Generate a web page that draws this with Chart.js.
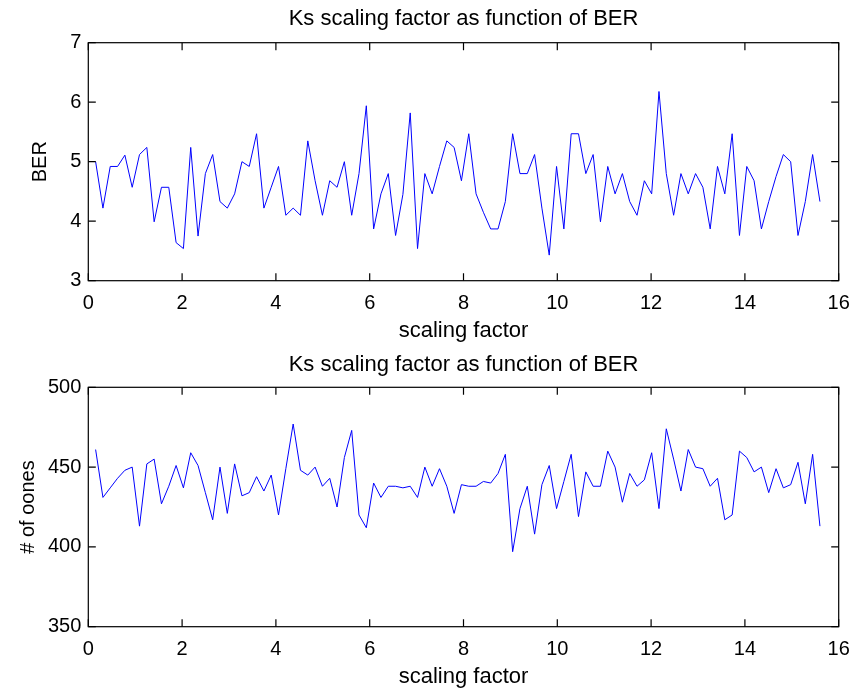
<!DOCTYPE html>
<html>
<head>
<meta charset="utf-8">
<script src="https://cdn.jsdelivr.net/npm/chart.js@4"></script>
<style>
    html, body { margin: 0; padding: 0; background: #fff; }
    canvas { display: block; }
</style>
</head>
<body>
<canvas id="chart1" width="856" height="346"></canvas>
<canvas id="chart2" width="856" height="346"></canvas>
<script>
// samples along the x axis (one every 0.156)
const xStep = 0.156;

const titleText = 'Ks scaling factor as function of BER';
const xTitle = 'scaling factor';

const xTicks = [0, 2, 4, 6, 8, 10, 12, 14, 16];
const berTicks = [3, 4, 5, 6, 7];
const onesTicks = [350, 400, 450, 500];

const berValues = [
    5.00, 4.22, 4.92, 4.92, 5.11, 4.57, 5.12, 5.24, 3.99, 4.57,
    4.57, 3.64, 3.54, 5.24, 3.75, 4.80, 5.12, 4.33, 4.22, 4.46,
    5.00, 4.92, 5.47, 4.22, 4.57, 4.92, 4.10, 4.22, 4.10, 5.35,
    4.68, 4.10, 4.68, 4.57, 5.00, 4.10, 4.80, 5.94, 3.87, 4.46,
    4.80, 3.76, 4.45, 5.82, 3.54, 4.80, 4.46, 4.92, 5.35, 5.24,
    4.68, 5.47, 4.46, 4.15, 3.87, 3.87, 4.33, 5.47, 4.80, 4.80,
    5.12, 4.22, 3.43, 4.92, 3.87, 5.47, 5.47, 4.80, 5.12, 3.99,
    4.92, 4.46, 4.80, 4.33, 4.10, 4.68, 4.46, 6.18, 4.80, 4.10,
    4.80, 4.46, 4.80, 4.57, 3.87, 4.92, 4.46, 5.47, 3.76, 4.92,
    4.68, 3.87, 4.33, 4.75, 5.12, 5.00, 3.76, 4.33, 5.12, 4.33
];

const onesValues = [
    461, 431, 437, 443, 448, 450, 413, 452, 455, 427,
    438, 451, 437, 459, 451, 434, 417, 450, 421, 452,
    432, 434, 444, 435, 445, 420, 449, 477, 448, 445,
    450, 438, 443, 425, 456, 473, 420, 412, 440, 431,
    438, 438, 437, 438, 431, 450, 438, 449, 438, 421,
    439, 438, 438, 441, 440, 446, 458, 397, 424, 438,
    408, 439, 451, 424, 441, 458, 419, 447, 438, 438,
    460, 450, 428, 446, 438, 442, 459, 424, 474, 455,
    435, 461, 450, 449, 438, 443, 417, 420, 460, 456,
    447, 450, 434, 449, 437, 439, 453, 427, 458, 413
];

const fontFamily = '"Liberation Sans", Arial, Helvetica, sans-serif';
Chart.defaults.font.family = fontFamily;
Chart.defaults.color = '#000';

// MATLAB style box with ticks pointing inwards
const tickLen = 7.5;
const matlabBox = {
    id: 'matlabBox',
    afterDatasetsDraw(chart) {
        const ctx = chart.ctx;
        const a = chart.chartArea;
        const x = chart.scales.x;
        const y = chart.scales.y;
        ctx.save();
        ctx.strokeStyle = '#000';
        ctx.lineWidth = 1.2;
        ctx.beginPath();
        x.ticks.forEach(t => {
            let px = x.getPixelForValue(t.value);
            ctx.moveTo(px, a.bottom);
            ctx.lineTo(px, a.bottom - tickLen);
            ctx.moveTo(px, a.top);
            ctx.lineTo(px, a.top + tickLen);
        });
        y.ticks.forEach(t => {
            let py = y.getPixelForValue(t.value);
            ctx.moveTo(a.left, py);
            ctx.lineTo(a.left + tickLen, py);
            ctx.moveTo(a.right, py);
            ctx.lineTo(a.right - tickLen, py);
        });
        ctx.stroke();
        ctx.strokeRect(a.left, a.top, a.right - a.left, a.bottom - a.top);
        ctx.restore();
    }
};

function makeChart(id, values, yTicks, yLabel, yTitlePad, titleBottomPad) {
    let points = values.map((v, i) => ({ x: (i + 1) * xStep, y: v }));
    return new Chart(document.getElementById(id), {
        type: 'line',
        data: {
            datasets: [{
                data: points,
                borderColor: '#0000ff',
                borderWidth: 1,
                pointRadius: 0,
                tension: 0,
                fill: false
            }]
        },
        options: {
            responsive: false,
            animation: false,
            layout: { padding: { left: 0, right: 17.3, top: 0, bottom: 0 } },
            plugins: {
                legend: { display: false },
                tooltip: { enabled: false },
                title: {
                    display: true,
                    fullSize: false,
                    text: titleText,
                    color: '#000',
                    font: { size: 22, weight: 'normal' },
                    padding: { top: 5.7, bottom: titleBottomPad }
                }
            },
            scales: {
                x: {
                    type: 'linear',
                    min: xTicks[0],
                    max: xTicks[xTicks.length - 1],
                    afterBuildTicks: s => { s.ticks = xTicks.map(v => ({ value: v })); },
                    afterFit: s => {
                        s.height = 65.3;
                        s.paddingLeft = 0;
                        s.paddingRight = 0;
                    },
                    grid: { display: false, drawTicks: false },
                    border: { display: false },
                    ticks: { font: { size: 20 }, padding: 11, maxRotation: 0 },
                    title: {
                        display: true,
                        text: xTitle,
                        font: { size: 22 },
                        padding: { top: 0, bottom: 1.9 }
                    }
                },
                y: {
                    min: yTicks[0],
                    max: yTicks[yTicks.length - 1],
                    afterBuildTicks: s => { s.ticks = yTicks.map(v => ({ value: v })); },
                    afterFit: s => { s.width = 88.3; },
                    grid: { display: false, drawTicks: false },
                    border: { display: false },
                    ticks: { font: { size: 20 }, padding: 7 },
                    title: {
                        display: true,
                        text: yLabel,
                        font: { size: 20 },
                        padding: { top: yTitlePad, bottom: 0 }
                    }
                }
            }
        },
        plugins: [matlabBox]
    });
}

let chart1 = makeChart('chart1', berValues, berTicks, 'BER', 28, 10.6);
let chart2 = makeChart('chart2', onesValues, onesTicks, '# of oones', 16, 9.2);
</script>
</body>
</html>
